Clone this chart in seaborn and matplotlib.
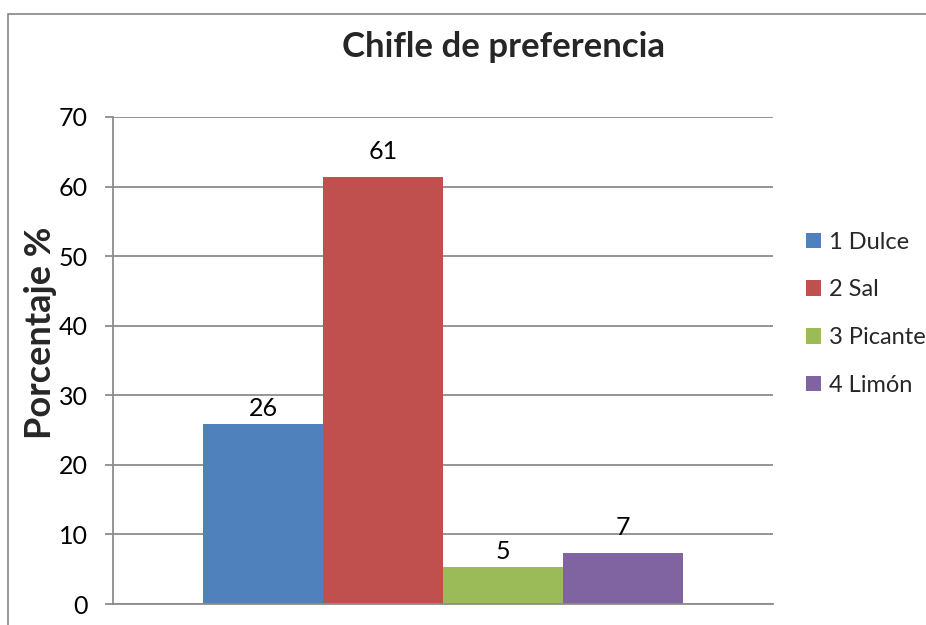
import matplotlib
matplotlib.use("Agg")
import matplotlib.pyplot as plt
from matplotlib.patches import Rectangle
import seaborn as sns
import pandas as pd

# Survey results: preferred chifle flavour (percent of respondents)
sabores = ["1 Dulce", "2 Sal", "3 Picante", "4 Limón"]
porcentajes = [25.9, 61.4, 5.3, 7.4]
colores = ["#4F81BD", "#C0504D", "#9BBB59", "#8064A2"]
y_ticks = [0, 10, 20, 30, 40, 50, 60, 70]

df = pd.DataFrame({"grupo": [""] * len(sabores),
                   "sabor": sabores,
                   "porcentaje": porcentajes})

sns.set_theme(style="white")
plt.rcParams["font.family"] = ["Lato", "DejaVu Sans"]

fig = plt.figure(figsize=(9.26, 6.25), dpi=100)
ax = fig.add_axes([113 / 926, 21 / 625, 660 / 926, 487 / 625])

sns.barplot(data=df, x="grupo", y="porcentaje", hue="sabor",
            palette=colores, width=0.7273, saturation=1,
            edgecolor="none", linewidth=0, ax=ax)

ax.set_xlim(-0.5, 0.5)
ax.set_ylim(0, 70)
ax.set_yticks(y_ticks)
ax.set_yticklabels([str(v) for v in y_ticks], fontsize=18)
ax.set_xticks([])
ax.set_xlabel("")
ax.set_ylabel("Porcentaje %", fontsize=26, fontweight="bold")
ax.yaxis.set_label_coords(-0.085, 0.556)

grid_col = "#8C8C8C"
ax.set_axisbelow(True)
ax.yaxis.grid(True, color=grid_col, linewidth=1.3)
for side in ["top", "right"]:
    ax.spines[side].set_visible(False)
for side in ["left", "bottom"]:
    ax.spines[side].set_color(grid_col)
    ax.spines[side].set_linewidth(1.3)
ax.tick_params(axis="y", which="both", left=True, length=6, width=1.3,
               color=grid_col, pad=12, labelcolor="black")

# Value labels above each bar
label_pad = [3, 10, 3, 10]
for patch, val, pad in zip(ax.patches, porcentajes, label_pad):
    ax.annotate(f"{val:.0f}",
                (patch.get_x() + patch.get_width() / 2, patch.get_height()),
                xytext=(0, pad), textcoords="offset points",
                ha="center", va="bottom", fontsize=18, color="black")

ax.legend(loc="center left", bbox_to_anchor=(1.05, 0.596), frameon=False,
          fontsize=17, handlelength=0.64, handleheight=0.64,
          handletextpad=0.35, labelspacing=1.13, borderpad=0,
          borderaxespad=0)

fig.text(503 / 926, 1 - 57 / 625, "Chifle de preferencia",
         ha="center", va="baseline", fontsize=25, fontweight="bold")

# Chart area frame
fig.patches.append(Rectangle((8 / 926, -0.1), 1.2, 1 - 14 / 625 + 0.1,
                             transform=fig.transFigure, fill=False,
                             edgecolor="#868686", linewidth=1.2))

fig.savefig("out.png", dpi=100)
